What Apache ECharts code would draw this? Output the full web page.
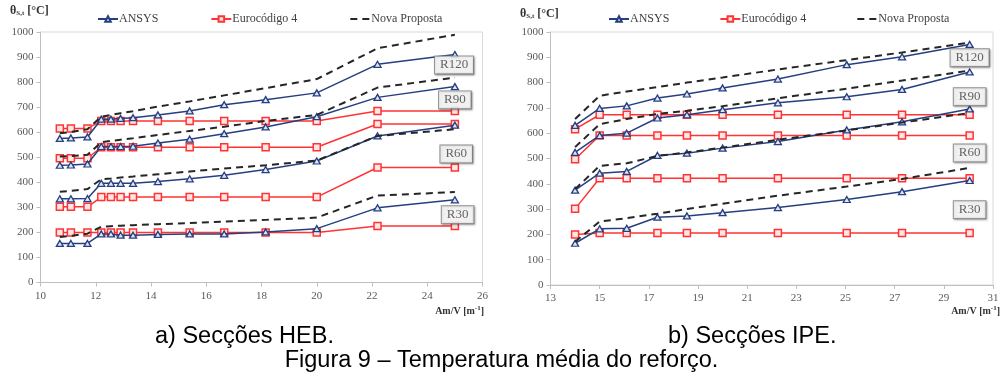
<!DOCTYPE html>
<html>
<head>
<meta charset="utf-8">
<script src="https://cdn.jsdelivr.net/npm/echarts@6/dist/echarts.min.js"></script>
<style>
    html, body { margin: 0; padding: 0; background: #fff; }
    #chart { width: 1003px; height: 376px; }
</style>
</head>
<body>
<div id="chart"></div>
<script>

// a) HEB sections
var hebX = [10.7, 11.1, 11.7, 12.2, 12.55, 12.9, 13.35, 14.25, 15.4, 16.65, 18.15, 20.0, 22.2, 25.0];

var hebAnsysR30 = [156, 156, 156, 194, 194, 189, 189, 192, 194, 194, 202, 215, 298, 330];
var hebAnsysR60 = [334, 334, 335, 396, 396, 396, 396, 403, 414, 428, 451, 485, 585, 628];
var hebAnsysR90 = [468, 469, 473, 543, 543, 543, 544, 557, 572, 594, 621, 662, 739, 782];
var hebAnsysR120 = [575, 577, 581, 652, 652, 655, 658, 669, 685, 710, 730, 757, 871, 910];

var hebEc4R30 = [200, 200, 200, 200, 200, 200, 200, 200, 200, 200, 200, 200, 226, 226];
var hebEc4R60 = [302, 302, 302, 341, 341, 341, 341, 341, 341, 341, 341, 341, 459, 459];
var hebEc4R90 = [496, 496, 496, 540, 540, 540, 540, 540, 540, 540, 540, 540, 633, 633];
var hebEc4R120 = [615, 615, 615, 645, 645, 645, 645, 645, 645, 645, 645, 645, 685, 685];

var hebNovaR30 = [182, 186, 195, 223, 225, 227, 229, 233, 237, 243, 250, 259, 347, 361];
var hebNovaR60 = [362, 366, 373, 412, 415, 419, 423, 432, 443, 455, 468, 487, 585, 612];
var hebNovaR90 = [503, 505, 510, 560, 565, 570, 576, 589, 605, 622, 645, 669, 778, 818];
var hebNovaR120 = [596, 601, 612, 662, 669, 676, 684, 702, 723, 747, 776, 812, 935, 989];

// b) IPE sections
var ipeX = [14.0, 15.0, 16.1, 17.35, 18.55, 20.0, 22.25, 25.05, 27.3, 30.05];

var ipeAnsysR30 = [165, 222, 224, 268, 273, 286, 306, 338, 369, 413];
var ipeAnsysR60 = [375, 442, 449, 512, 521, 541, 567, 613, 645, 696];
var ipeAnsysR90 = [524, 591, 600, 660, 673, 693, 720, 744, 773, 842];
var ipeAnsysR120 = [631, 698, 708, 739, 755, 779, 814, 871, 902, 951];

var ipeEc4R30 = [200, 206, 206, 206, 206, 206, 206, 206, 206, 206];
var ipeEc4R60 = [301, 422, 422, 422, 422, 422, 422, 422, 422, 422];
var ipeEc4R90 = [497, 591, 591, 591, 591, 591, 591, 591, 591, 591];
var ipeEc4R120 = [616, 673, 673, 673, 673, 673, 673, 673, 673, 673];

var ipeNovaR30 = [171, 251, 264, 282, 300, 321, 353, 389, 419, 463];
var ipeNovaR60 = [379, 471, 481, 510, 524, 543, 574, 611, 642, 680];
var ipeNovaR90 = [545, 636, 656, 676, 689, 707, 738, 776, 808, 848];
var ipeNovaR120 = [656, 748, 765, 782, 800, 820, 852, 889, 919, 958];

// fire resistance class boxes (R30, R60, R90, R120)
var classNames = ['R30', 'R60', 'R90', 'R120'];
var hebClassX = [25.1, 25.05, 25.0, 24.97];
var hebClassY = [270, 513, 729, 868];
var ipeClassX = [30.05, 30.05, 30.05, 30.05];
var ipeClassY = [297, 522, 744, 898];

var legendNames = ['ANSYS', 'Eurocódigo 4', 'Nova Proposta'];

var serif = '"Liberation Serif", "Times New Roman", serif';
var sans = '"Liberation Sans", Arial, sans-serif';
var navy = '#263f80';
var red = '#ff3333';
var dash = '#262626';
var axisGrey = '#bfbfbf';

var chart = echarts.init(document.getElementById('chart'), null, { renderer: 'canvas' });

function pairs(xs, ys) {
    return xs.map(function (x, i) { return [x, ys[i]]; });
}

function ansysSeries(idx, xs, ys) {
    return {
        name: 'ANSYS', type: 'line', xAxisIndex: idx, yAxisIndex: idx,
        symbol: 'triangle', symbolSize: [7, 6],
        lineStyle: { color: navy, width: 1.5 },
        itemStyle: { color: '#dfe5f3', borderColor: navy, borderWidth: 1.3 },
        data: pairs(xs, ys), z: 3
    };
}

function ec4Series(idx, xs, ys) {
    return {
        name: 'Eurocódigo 4', type: 'line', xAxisIndex: idx, yAxisIndex: idx,
        symbol: 'rect', symbolSize: 7,
        lineStyle: { color: red, width: 1.5 },
        itemStyle: { color: '#ffe6e6', borderColor: red, borderWidth: 1.5 },
        data: pairs(xs, ys), z: 2
    };
}

function novaSeries(idx, xs, ys) {
    return {
        name: 'Nova Proposta', type: 'line', xAxisIndex: idx, yAxisIndex: idx,
        symbol: 'none', showSymbol: false,
        lineStyle: { color: dash, width: 2, type: [7, 5] },
        itemStyle: { color: dash },
        data: pairs(xs, ys), z: 4
    };
}

function classSeries(idx, xs, ys) {
    return {
        type: 'scatter', xAxisIndex: idx, yAxisIndex: idx,
        symbolSize: 1, itemStyle: { color: 'rgba(0,0,0,0)' },
        silent: true, z: 10,
        label: {
            show: true, position: 'inside', formatter: '{b}',
            fontFamily: serif, fontSize: 13, color: '#404040',
            backgroundColor: '#fff', borderColor: '#7f7f7f', borderWidth: 1,
            padding: [2, 5],
            shadowColor: 'rgba(0,0,0,0.35)', shadowBlur: 2, shadowOffsetX: 1, shadowOffsetY: 1
        },
        data: classNames.map(function (n, i) { return { name: n, value: [xs[i], ys[i]] }; })
    };
}

function xAxisOf(idx, min, max) {
    return {
        type: 'value', gridIndex: idx, min: min, max: max, interval: 2,
        axisLine: { show: true, lineStyle: { color: axisGrey } },
        axisTick: { show: true, length: 4, lineStyle: { color: axisGrey } },
        axisLabel: { fontFamily: serif, fontSize: 11, color: '#595959', margin: 8 },
        splitLine: { show: false }
    };
}

function yAxisOf(idx) {
    return {
        type: 'value', gridIndex: idx, min: 0, max: 1000, interval: 100,
        axisLine: { show: true, lineStyle: { color: axisGrey } },
        axisTick: { show: true, length: 4, lineStyle: { color: axisGrey } },
        axisLabel: {
            fontFamily: serif, fontSize: 11, color: '#595959', margin: 7,
            formatter: function (v) { return String(v); }
        },
        splitLine: { show: false }
    };
}

function legendOf(left, gap) {
    return {
        data: [
            { name: legendNames[0] },
            { name: legendNames[1] },
            { name: legendNames[2], itemStyle: { opacity: 0 } }
        ],
        left: left, top: 13, padding: 0, itemGap: gap,
        itemWidth: 20, itemHeight: 7,
        textStyle: { fontFamily: serif, fontSize: 12, color: '#404040', padding: [0, 0, 0, -4] }
    };
}

var yTitleRich = {
    a: { fontFamily: serif, fontSize: 12, fontWeight: 'bold', color: '#333' },
    s: { fontFamily: serif, fontSize: 7, fontWeight: 'bold', color: '#333', padding: [6, 0, 0, 0] }
};
var xTitleRich = {
    a: { fontFamily: serif, fontSize: 10, fontWeight: 'bold', color: '#333' },
    s: { fontFamily: serif, fontSize: 7, fontWeight: 'bold', color: '#333', padding: [0, 0, 5, 0] }
};
var captionStyle = { fontFamily: sans, fontSize: 23.5, fontWeight: 'normal', color: '#000', lineHeight: 24 };

var option = {
    animation: false,
    backgroundColor: '#fff',
    title: [
        { text: '{a|θ}{s|S,t}{a| [°C]}', left: 10, top: 4, padding: 0, textStyle: { rich: yTitleRich } },
        { text: '{a|θ}{s|S,t}{a| [°C]}', left: 520, top: 7, padding: 0, textStyle: { rich: yTitleRich } },
        { text: '{a|Am/V [m}{s|-1}{a|]}', right: 519, top: 305, padding: 0, textStyle: { rich: xTitleRich } },
        { text: '{a|Am/V [m}{s|-1}{a|]}', right: 3, top: 305, padding: 0, textStyle: { rich: xTitleRich } },
        { text: 'a) Secções HEB.', left: 155, top: 325, padding: 0, textStyle: captionStyle },
        { text: 'b) Secções IPE.', left: 668, top: 325, padding: 0, textStyle: captionStyle },
        { text: 'Figura 9 – Temperatura média do reforço.', left: 'center', top: 349, padding: 0, textStyle: captionStyle }
    ],
    legend: [legendOf(97, 52), legendOf(608, 50)],
    grid: [
        { left: 40.5, right: 520.5, top: 32, bottom: 93.5, show: true, borderColor: '#d9d9d9', borderWidth: 1 },
        { left: 550.5, right: 10, top: 32, bottom: 91, show: true, borderColor: '#d9d9d9', borderWidth: 1 }
    ],
    xAxis: [xAxisOf(0, 10, 26), xAxisOf(1, 13, 31)],
    yAxis: [yAxisOf(0), yAxisOf(1)],
    series: [
        ansysSeries(0, hebX, hebAnsysR30),
        ansysSeries(0, hebX, hebAnsysR60),
        ansysSeries(0, hebX, hebAnsysR90),
        ansysSeries(0, hebX, hebAnsysR120),
        ec4Series(0, hebX, hebEc4R30),
        ec4Series(0, hebX, hebEc4R60),
        ec4Series(0, hebX, hebEc4R90),
        ec4Series(0, hebX, hebEc4R120),
        novaSeries(0, hebX, hebNovaR30),
        novaSeries(0, hebX, hebNovaR60),
        novaSeries(0, hebX, hebNovaR90),
        novaSeries(0, hebX, hebNovaR120),
        classSeries(0, hebClassX, hebClassY),

        ansysSeries(1, ipeX, ipeAnsysR30),
        ansysSeries(1, ipeX, ipeAnsysR60),
        ansysSeries(1, ipeX, ipeAnsysR90),
        ansysSeries(1, ipeX, ipeAnsysR120),
        ec4Series(1, ipeX, ipeEc4R30),
        ec4Series(1, ipeX, ipeEc4R60),
        ec4Series(1, ipeX, ipeEc4R90),
        ec4Series(1, ipeX, ipeEc4R120),
        novaSeries(1, ipeX, ipeNovaR30),
        novaSeries(1, ipeX, ipeNovaR60),
        novaSeries(1, ipeX, ipeNovaR90),
        novaSeries(1, ipeX, ipeNovaR120),
        classSeries(1, ipeClassX, ipeClassY)
    ]
};

chart.setOption(option);

</script>
</body>
</html>
